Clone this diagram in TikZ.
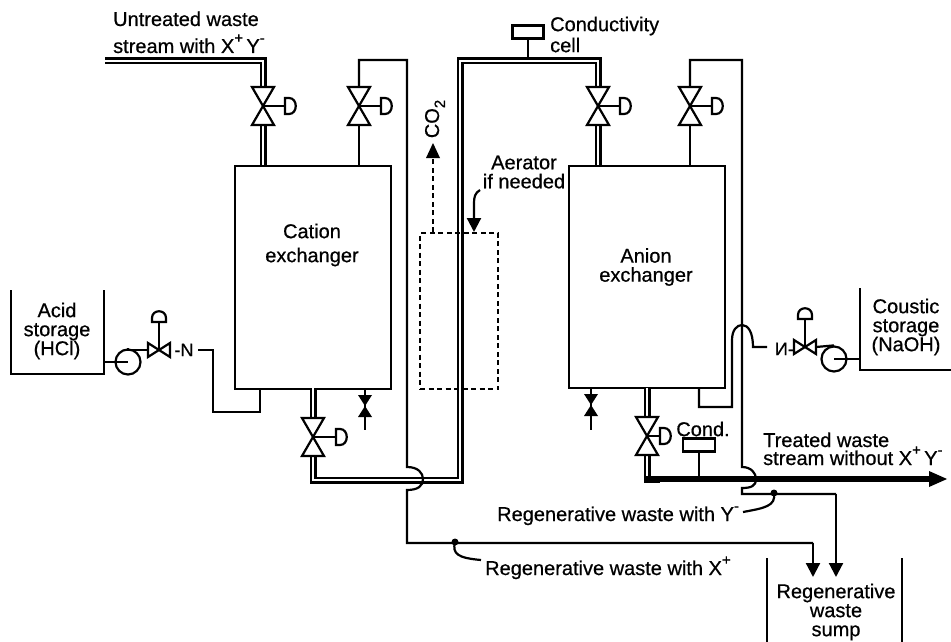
\documentclass[tikz,border=0pt]{standalone}
\usepackage{fontspec}
\setmainfont{Liberation Sans}[FakeBold=0.6]
\usetikzlibrary{arrows.meta,calc}
\newcommand{\sups}[1]{\raisebox{.5em}{\fontsize{15}{15}\selectfont #1}}
\tikzset{
 line/.style={line width=2.2pt,line join=miter},
 vtri/.style={line width=2.2pt,fill=white},
 txt/.style={font=\fontsize{20}{19}\selectfont,align=center,inner sep=0pt,text=black},
 pipeouter/.style={line width=7pt,line join=miter,line cap=butt},
 pipeinner/.style={line width=2pt,white,line join=miter,line cap=butt},
 dashline/.style={line width=2.2pt,dash pattern=on 5pt off 3.5pt},
 tip/.style={-{Triangle[length=14pt,width=14pt]}}
}
% large valve with D actuator: name, x, y, D offset
\newcommand{\valveD}[4]{%
 \coordinate (#1) at (#2,#3);
 \coordinate (#1t) at (#2,#3-19);
 \coordinate (#1b) at (#2,#3+19);
 \draw[vtri] (#2-11,#3-19) -- (#2+11,#3-19) -- (#2,#3) -- cycle;
 \draw[vtri] (#2-11,#3+19) -- (#2+11,#3+19) -- (#2,#3) -- cycle;
 \draw[line] (#2,#3) -- (#2+#4,#3);
 \draw[line,fill=white] (#2+#4,#3-8) -- (#2+#4+4,#3-8) .. controls (#2+#4+13,#3-8) and (#2+#4+13,#3+8) .. (#2+#4+4,#3+8) -- (#2+#4,#3+8) -- cycle;
}
% small horizontal control valve with dome actuator
\newcommand{\valveC}[3]{%
 \coordinate (#1) at (#2,#3);
 \draw[line,fill=white] (#2-11,#3-7) -- (#2,#3) -- (#2-11,#3+7) -- cycle;
 \draw[line,fill=white] (#2+11,#3-7) -- (#2,#3) -- (#2+11,#3+7) -- cycle;
 \draw[line] (#2,#3) -- (#2,#3-28);
 \draw[line,fill=white] (#2-7,#3-28) -- (#2+7,#3-28) -- (#2+7,#3-32) .. controls (#2+7,#3-41) and (#2-7,#3-41) .. (#2-7,#3-32) -- cycle;
}
% filled drain valve
\newcommand{\valveF}[3]{%
 \coordinate (#1) at (#2,#3);
 \coordinate (#1e) at (#2,#3+20);
 \fill (#2-7,#3-11) -- (#2+7,#3-11) -- (#2,#3) -- cycle;
 \fill (#2-7,#3+11) -- (#2+7,#3+11) -- (#2,#3) -- cycle;
}
\begin{document}
\begin{tikzpicture}[x=1pt,y=-1pt]
\useasboundingbox (0,0) rectangle (951,642);
% reference points
\coordinate (feed) at (105,61);
\coordinate (c1) at (263,61);
\coordinate (top2) at (460,61);
\coordinate (top2b) at (460,480);
\coordinate (top2r) at (598,61);
\coordinate (cbot) at (313,480);
\coordinate (abot) at (647,479);
\coordinate (tout) at (947,479);
% vessels
\node[draw,line width=2.2pt,minimum width=156pt,minimum height=223pt,inner sep=0pt,anchor=north west] (cat) at (234,165) {};
\node[draw,line width=2.2pt,minimum width=156pt,minimum height=222pt,inner sep=0pt,anchor=north west] (ani) at (568,165) {};
\node[txt] (cattxt) at (312,245) {Cation\\[5pt]exchanger};
\node[txt] (anitxt) at (646,267) {Anion\\exchanger};
% double pipes
\draw[pipeouter] (feed) -- (c1) -- (263,100);
\draw[pipeinner] (feed) -- (c1) -- (263,100);
\draw[pipeouter] (263,120) -- (263,165);
\draw[pipeinner] (263,120) -- (263,165);
\draw[pipeouter] (313,388) -- (313,425);
\draw[pipeinner] (313,388) -- (313,425);
\draw[pipeouter] (313,450) -- (cbot) -- (top2b) -- (top2) -- (top2r) -- (598,95);
\draw[pipeinner] (313,450) -- (cbot) -- (top2b) -- (top2) -- (top2r) -- (598,95);
\draw[pipeouter] (598,120) -- (598,165);
\draw[pipeinner] (598,120) -- (598,165);
\draw[pipeouter] (647,388) -- (647,425);
\draw[pipeinner] (647,388) -- (647,425);
\draw[pipeouter] (647,450) -- (abot) -- (660,479);
\draw[pipeinner] (647,450) -- (647,477);
\draw[line width=5.5pt] (646,479) -- (930,479);
\fill (tout) -- (929,471) -- (929,487) -- cycle;
% valves
\valveD{v1}{263}{106}{22}
\valveD{v2}{359}{106}{22}
\valveD{v3}{313}{437}{23}
\valveD{v4}{598}{106}{22}
\valveD{v5}{690}{106}{22}
\valveD{v6}{647}{436}{13}
% single lines to valves
\draw[line] (v2t) -- (359,60) -- (407,60) -- (407,467)
  .. controls (418,467) and (423,473) .. (423,479)
  .. controls (423,486) and (418,490) .. (407,490)
  -- (407,543) -- (813,543);
\draw[line,tip] (813,543) -- (813,577);
\draw[line] (v2b) -- (359,165);
\draw[line] (v5t) -- (690,60) -- (742,60) -- (742,467)
  .. controls (751,467) and (756,473) .. (756,479)
  .. controls (756,486) and (751,488) .. (742,488)
  -- (742,494) -- (836,494);
\draw[line,tip] (836,494) -- (836,577);
\draw[line] (v5b) -- (690,165);
% conductivity cell
\node[draw,line width=2.2pt,minimum width=31pt,minimum height=13pt,inner sep=0pt] (cc) at (528,32) {};
\draw[line] (cc) -- (528,58);
\node[txt,anchor=west] (cctxt) at (550,26) {Conductivity};
\node[txt,anchor=west] (cctxt2) at (550,45) {cell};
% cond
\node[draw,line width=2.2pt,minimum width=32pt,minimum height=13pt,inner sep=0pt] (cd) at (699,445) {};
\draw[line] (cd) -- (699,478);
\node[txt] (cdtxt) at (703,429) {Cond.};
% aerator
\node[draw,dashline,minimum width=78pt,minimum height=156pt,inner sep=0pt,anchor=north west] (aer) at (419,232) {};
\coordinate (co2tip) at (433,143);
\draw[dashline] (433,232) -- (433,158);
\fill (co2tip) -- (426,158) -- (440,158) -- cycle;
\node[txt,rotate=90] (co2) at (435,119) {CO\raisebox{-.3em}{\fontsize{15}{15}\selectfont 2}};
\node[txt] (aertxt) at (524,172) {Aerator\\if needed};
\draw[line,tip] (480,190) .. controls (475,193) and (474,197) .. (474,203) -- (474,232);
% drains
\draw[line] (365,388) -- (365,430);
\valveF{d1}{365}{406}
\draw[line] (591,388) -- (591,430);
\valveF{d2}{591}{405}
% acid side
\draw[line] (11,290) -- (11,374) -- (104,374) -- (104,290);
\node[txt] (acid) at (57,331) {Acid\\storage\\(HCl)};
\node[draw,circle,line width=2.2pt,minimum size=25pt,inner sep=0pt] (p1) at (128,362) {};
\draw[line] (104,362) -- (p1.center);
\draw[line] (p1.north) -- (128,350) -- (148,350);
\valveC{cv1}{159}{350}
\node[txt,font=\fontsize{18}{18}\selectfont] (ntxt) at (184,350) {-N};
\draw[line] (198,350) -- (213,350) -- (213,412) -- (260,412) -- (260,388);
% caustic side
\draw[line] (860,288) -- (860,370) -- (951,370);
\node[txt] (caus) at (906,327) {Coustic\\storage\\(NaOH)};
\node[draw,circle,line width=2.2pt,minimum size=25pt,inner sep=0pt] (p2) at (834,359) {};
\draw[line] (860,359) -- (p2.center);
\draw[line] (p2.north) -- (816,347);
\valveC{cv2}{805}{347}
\node[txt,anchor=east,font=\fontsize{18}{18}\selectfont] (ntxt2) at (794,349) {\reflectbox{N}-};
\draw[line] (699,388) -- (699,407) -- (732,407) -- (732,340)
  .. controls (732,330) and (737,325) .. (742,325)
  .. controls (748,325) and (753,332) .. (753,347) -- (767,347);
% labels
\node[txt,anchor=base west] (u1) at (113,26) {Untreated waste};
\node[txt,anchor=base west] (u2) at (113,53) {stream with X\sups{+}\,Y\sups{-}};
\node[txt,anchor=base west] (t1) at (763,447) {Treated waste};
\node[txt,anchor=base west] (t2) at (763,465) {stream without X\sups{+}\,Y\sups{-}};
\node[txt,anchor=base west] (ry) at (497,521) {Regenerative waste with Y\sups{-}};
\node[txt,anchor=base west] (rx) at (485,575) {Regenerative waste with X\sups{+}};
\fill (774,493) circle (3.5pt);
\draw[line] (774,493) .. controls (776,506) and (765,508) .. (743,512);
\fill (455,542) circle (3.5pt);
\draw[line] (455,542) .. controls (452,554) and (458,558) .. (481,560);
% sump
\draw[line] (767,558) -- (767,642);
\draw[line] (902,558) -- (902,642);
\node[txt] (sump) at (836,612) {Regenerative\\waste\\sump};
\end{tikzpicture}
\end{document}
